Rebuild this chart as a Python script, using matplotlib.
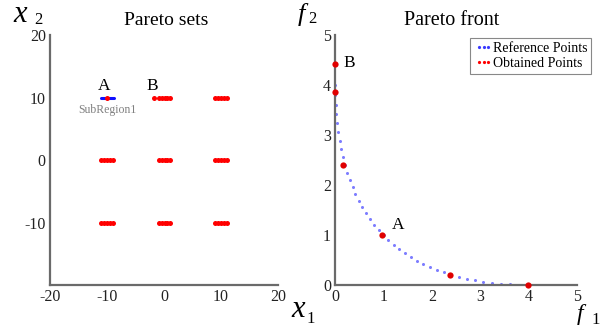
import numpy as np
import matplotlib
matplotlib.use("Agg")
import matplotlib.pyplot as plt
from matplotlib.lines import Line2D

# pareto sets (decision space), red clusters per row
set_top_x = [-1.7, -0.9, -0.4, 0.1, 0.6, 1.1, 9.0, 9.5, 10.0, 10.5, 11.0]
set_top_y = [10] * len(set_top_x)
set_mid_x = [-11.0, -10.5, -10.0, -9.5, -9.0, -0.9, -0.4, 0.1, 0.6, 1.1, 9.0, 9.5, 10.0, 10.5, 11.0]
set_mid_y = [0] * len(set_mid_x)
set_bot_x = [-11.0, -10.5, -10.0, -9.5, -9.0, -0.9, -0.4, 0.1, 0.6, 1.1, 9.0, 9.5, 10.0, 10.5, 11.0]
set_bot_y = [-10] * len(set_bot_x)
subregion_x = [-11.1, -8.8]
subregion_y = [10, 10]
point_a_set = (-10.0, 10)

# pareto front reference points
ref_f1 = [0.00, 0.00, 0.01, 0.02, 0.04, 0.06, 0.09, 0.12, 0.16, 0.20, 0.25, 0.30, 0.36, 0.42,
          0.49, 0.56, 0.64, 0.72, 0.81, 0.90, 1.00, 1.10, 1.21, 1.32, 1.44, 1.56, 1.69, 1.82,
          1.96, 2.10, 2.25, 2.40, 2.56, 2.72, 2.89, 3.06, 3.24, 3.42, 3.61, 3.80, 4.00]
ref_f2 = [4.00, 3.80, 3.61, 3.42, 3.24, 3.06, 2.89, 2.72, 2.56, 2.40, 2.25, 2.10, 1.96, 1.82,
          1.69, 1.56, 1.44, 1.32, 1.21, 1.10, 1.00, 0.90, 0.81, 0.72, 0.64, 0.56, 0.49, 0.42,
          0.36, 0.30, 0.25, 0.20, 0.16, 0.12, 0.09, 0.06, 0.04, 0.02, 0.01, 0.00, 0.00]
# obtained points
obt_f1 = [0.0, 0.0, 0.16, 0.97, 2.38, 3.98]
obt_f2 = [4.42, 3.86, 2.40, 1.00, 0.20, 0.0]

serif = ["Liberation Serif", "DejaVu Serif"]
plt.rcParams["font.family"] = serif
plt.rcParams["axes.unicode_minus"] = False
red = "#ff0000"
grey = "#6a6a6a"

fig = plt.figure(figsize=(6.05, 3.31), dpi=100)
ax1 = fig.add_axes([0.0826, 0.139, 0.377, 0.755])
ax2 = fig.add_axes([0.554, 0.139, 0.40, 0.755])

for ax in (ax1, ax2):
    for s in ("top", "right"):
        ax.spines[s].set_visible(False)
    for s in ("left", "bottom"):
        ax.spines[s].set_color(grey)
        ax.spines[s].set_linewidth(1.6)
    ax.tick_params(length=0, labelsize=11.5, pad=3, colors="#222222")

# left panel
ax1.plot(subregion_x, subregion_y, color="#1010ff", lw=2.2, solid_capstyle="round", zorder=2)
for xs, ys in ((set_top_x, set_top_y), (set_mid_x, set_mid_y), (set_bot_x, set_bot_y)):
    ax1.plot(xs, ys, "o", color=red, ms=3.6, mec="none", zorder=3)
ax1.plot(*point_a_set, "o", color=red, ms=3.6, mec="none", zorder=3)
ax1.set_xlim(-20, 20)
ax1.set_ylim(-20, 20)
ax1.set_xticks([-20, -10, 0, 10, 20])
ax1.set_yticks([-10, 0, 10, 20])
ax1.text(-10.5, 10.6, "A", fontsize=12.5, ha="center", va="bottom")
ax1.text(-2.0, 10.6, "B", fontsize=12.5, ha="center", va="bottom")
ax1.text(-10.0, 8.9, "SubRegion1", fontsize=8.5, color="#808080", ha="center", va="top")
ax1.set_title("Pareto sets", fontsize=14, pad=7, x=0.51)

# right panel
ax2.plot(ref_f1, ref_f2, "o", color="#7d7dff", ms=2.2, mec="none", zorder=2)
ax2.plot(obt_f1, obt_f2, "o", color="#e00000", ms=4.5, mec="none", zorder=3, clip_on=False)
ax2.set_xlim(0, 5)
ax2.set_ylim(0, 5)
ax2.set_xticks([0, 1, 2, 3, 4, 5])
ax2.set_yticks([0, 1, 2, 3, 4, 5])
ax2.text(0.17, 4.45, "B", fontsize=12.5, ha="left", va="center")
ax2.text(1.17, 1.2, "A", fontsize=12.5, ha="left", va="center")
ax2.set_title("Pareto front", fontsize=14.5, pad=7, x=0.48)

handles = [
    Line2D([], [], ls="none", marker="o", ms=2.3, color="#3a3aff", mec="none"),
    Line2D([], [], ls="none", marker="o", ms=2.3, color=red, mec="none"),
]
leg = ax2.legend(handles, ["Reference Points", "Obtained Points"], loc="upper right",
                 bbox_to_anchor=(1.07, 1.0), fontsize=10, numpoints=3, handlelength=1.3,
                 handletextpad=0.0, borderpad=0.3, labelspacing=0.15, fancybox=False,
                 borderaxespad=0.2, frameon=True)
leg.get_frame().set_edgecolor(grey)
leg.get_frame().set_linewidth(0.8)

# axis labels (italic letter, upright subscript)
fig.text(0.022, 0.934, "x", fontsize=22, style="italic", ha="left", va="baseline")
fig.text(0.057, 0.927, "2", fontsize=12, ha="left", va="baseline")
fig.text(0.482, 0.042, "x", fontsize=22, style="italic", ha="left", va="baseline")
fig.text(0.507, 0.024, "1", fontsize=12, ha="left", va="baseline")
fig.text(0.492, 0.937, "f", fontsize=19, style="italic", ha="left", va="baseline")
fig.text(0.510, 0.931, "2", fontsize=12, ha="left", va="baseline")
fig.text(0.953, 0.032, "f", fontsize=17, style="italic", ha="left", va="baseline")
fig.text(0.977, 0.022, "1", fontsize=12, ha="left", va="baseline")

fig.savefig("out.png", dpi=100)
